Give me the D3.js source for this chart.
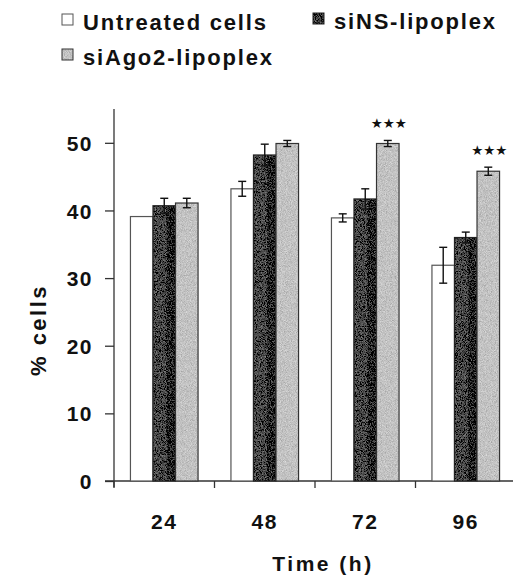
<!DOCTYPE html>
<html>
<head>
<meta charset="utf-8">
<script src="https://cdn.jsdelivr.net/npm/d3@7"></script>
<style>
  html, body { margin: 0; padding: 0; background: #fff; overflow: hidden; }
  svg { display: block; }
  text { font-family: "Liberation Sans", Arial, sans-serif; font-weight: bold; fill: #111; }
</style>
</head>
<body>
<div id="chart"></div>
<script>
// data
var times = ["24", "48", "72", "96"]
var seriesNames = ["Untreated cells", "siNS-lipoplex", "siAgo2-lipoplex"]
var untreated = [39.1, 43.2, 38.9, 31.9]
var untreatedErr = [0, 1.1, 0.6, 2.65]
var siNS = [40.7, 48.2, 41.7, 36.0]
var siNSErr = [1.1, 1.6, 1.5, 0.8]
var siAgo2 = [41.1, 49.9, 49.9, 45.8]
var siAgo2Err = [0.7, 0.45, 0.45, 0.6]
var significance = ["", "", "***", "***"]   // on siAgo2
var yTicks = [0, 10, 20, 30, 40, 50]

var width = 513, height = 582
var margin = {top: 109, left: 114, right: -3, bottom: 101}
var innerWidth = width - margin.left - margin.right
var innerHeight = height - margin.top - margin.bottom

var fills = ["#ffffff", "url(#darkGrad)", "#c2c2c2"]
var strokes = ["#555", "#222", "#333"]

var rows = []
times.forEach((t, i) => {
    rows.push({t: t, s: 0, v: untreated[i], e: untreatedErr[i]})
    rows.push({t: t, s: 1, v: siNS[i], e: siNSErr[i]})
    rows.push({t: t, s: 2, v: siAgo2[i], e: siAgo2Err[i], sig: significance[i]})
})

var svgRoot = d3.select('#chart').append('svg').attr('width', width).attr('height', height)

// grainy print texture
var defs = svgRoot.append('defs')
var f = defs.append('filter').attr('id', 'grain').attr('x', 0).attr('y', 0).attr('width', 1).attr('height', 1)
f.append('feTurbulence').attr('type', 'fractalNoise').attr('baseFrequency', 1.2).attr('numOctaves', 2).attr('seed', 4).attr('result', 'noise')
f.append('feColorMatrix').attr('in', 'noise').attr('type', 'matrix')
    .attr('values', '1 0 0 0 0  1 0 0 0 0  1 0 0 0 0  0 0 0 0 1').attr('result', 'gray')
f.append('feComposite').attr('in', 'SourceGraphic').attr('in2', 'gray').attr('operator', 'arithmetic')
    .attr('k1', 0).attr('k2', 1).attr('k3', 0.5).attr('k4', -0.25).attr('result', 'mix')
f.append('feComposite').attr('in', 'mix').attr('in2', 'SourceGraphic').attr('operator', 'in')

// dark bars: mottled grey with a near-black right third
var g = defs.append('linearGradient').attr('id', 'darkGrad').attr('x1', 0).attr('x2', 1).attr('y1', 0).attr('y2', 0)
g.append('stop').attr('offset', '0%').attr('stop-color', '#474747')
g.append('stop').attr('offset', '58%').attr('stop-color', '#474747')
g.append('stop').attr('offset', '64%').attr('stop-color', '#1c1c1c')
g.append('stop').attr('offset', '100%').attr('stop-color', '#1c1c1c')

var svg = svgRoot.append('g').attr('transform', `translate(${margin.left}, ${margin.top})`)

var x0 = d3.scaleBand().domain(times).range([0, innerWidth])
var x1 = d3.scaleBand().domain([0, 1, 2]).range([0, x0.bandwidth()]).paddingInner(0).paddingOuter(0.73)
var y = d3.scaleLinear().domain([0, 55]).range([innerHeight, 0])

// y axis
var yAxis = svg.append('g')
    .call(d3.axisLeft(y).tickValues(yTicks).tickSize(9).tickSizeOuter(0).tickPadding(12))
yAxis.select('.domain').attr('stroke', '#333').attr('stroke-width', 1.3).attr('d', `M0,0V${innerHeight + 6}`)
yAxis.selectAll('.tick line').attr('stroke', '#333').attr('stroke-width', 1.3)
yAxis.selectAll('text').style('font-size', '21px').style('letter-spacing', '1.5px').attr('dy', '0.36em')

// x axis
var xAxis = svg.append('g').attr('transform', `translate(0, ${innerHeight})`)
xAxis.append('path').attr('d', `M-9,0H${innerWidth}`).attr('stroke', '#333').attr('stroke-width', 1.5)
xAxis.selectAll('line.tk').data(times).join('line').attr('class', 'tk')
    .attr('x1', d => x0(d)).attr('x2', d => x0(d)).attr('y1', 0).attr('y2', 7)
    .attr('stroke', '#333').attr('stroke-width', 1.3)
xAxis.selectAll('text').data(times).join('text')
    .attr('x', d => x0(d) + x0.bandwidth() / 2)
    .attr('y', 48)
    .attr('text-anchor', 'middle')
    .style('font-size', '21px').style('letter-spacing', '1.5px')
    .text(d => d)

// bars
var bars = svg.selectAll('g.bar').data(rows).join('g').attr('class', 'bar')
bars.append('rect')
    .attr('x', d => x0(d.t) + x1(d.s))
    .attr('y', d => y(d.v))
    .attr('width', x1.bandwidth())
    .attr('height', d => innerHeight - y(d.v))
    .attr('fill', d => fills[d.s])
    .attr('filter', d => d.s === 0 ? null : 'url(#grain)')
bars.append('rect')
    .attr('x', d => x0(d.t) + x1(d.s))
    .attr('y', d => y(d.v))
    .attr('width', x1.bandwidth())
    .attr('height', d => innerHeight - y(d.v))
    .attr('fill', 'none')
    .attr('stroke', d => strokes[d.s])
    .attr('stroke-width', 1.2)

// error bars
var eb = svg.selectAll('g.err').data(rows.filter(d => d.e > 0)).join('g').attr('class', 'err')
    .attr('stroke', '#111').attr('stroke-width', 1.4)
var cx = d => x0(d.t) + x1(d.s) + x1.bandwidth() / 2
eb.append('line').attr('x1', cx).attr('x2', cx).attr('y1', d => y(d.v + d.e)).attr('y2', d => y(d.v - d.e))
eb.append('line').attr('x1', d => cx(d) - 4).attr('x2', d => cx(d) + 4).attr('y1', d => y(d.v + d.e)).attr('y2', d => y(d.v + d.e))
eb.append('line').attr('x1', d => cx(d) - 4).attr('x2', d => cx(d) + 4).attr('y1', d => y(d.v - d.e)).attr('y2', d => y(d.v - d.e))

// significance stars
svg.selectAll('text.sig').data(rows.filter(d => d.sig)).join('text').attr('class', 'sig')
    .attr('x', d => cx(d) + 1)
    .attr('y', d => y(d.v + d.e) - 12)
    .attr('text-anchor', 'middle')
    .style('font-family', '"DejaVu Sans", sans-serif')
    .style('font-weight', 'normal')
    .style('font-size', '13.5px')
    .text(d => d.sig.replace(/\*/g, '\u2605'))

// axis titles
svgRoot.append('text')
    .attr('transform', 'translate(46, 330) rotate(-90)')
    .attr('text-anchor', 'middle')
    .style('font-size', '22px').style('letter-spacing', '2.5px')
    .text('% cells')
svgRoot.append('text')
    .attr('x', 323).attr('y', 571)
    .attr('text-anchor', 'middle')
    .style('font-size', '21px').style('letter-spacing', '2.5px')
    .text('Time (h)')

// legend
var legendPos = [{x: 62, y: 14}, {x: 313, y: 13}, {x: 62, y: 49}]
var lg = svgRoot.selectAll('g.legend').data(seriesNames).join('g').attr('class', 'legend')
    .attr('transform', (d, i) => `translate(${legendPos[i].x}, ${legendPos[i].y})`)
lg.append('rect').attr('width', 11).attr('height', 11)
    .attr('fill', (d, i) => i === 1 ? '#333' : fills[i])
    .attr('filter', (d, i) => i === 0 ? null : 'url(#grain)')
lg.append('rect').attr('width', 11).attr('height', 11).attr('fill', 'none')
    .attr('stroke', (d, i) => strokes[i]).attr('stroke-width', 1)
lg.append('text').attr('x', 21).attr('y', 15.5)
    .style('font-size', '22px').style('letter-spacing', '1.8px')
    .text(d => d)
</script>
</body>
</html>
